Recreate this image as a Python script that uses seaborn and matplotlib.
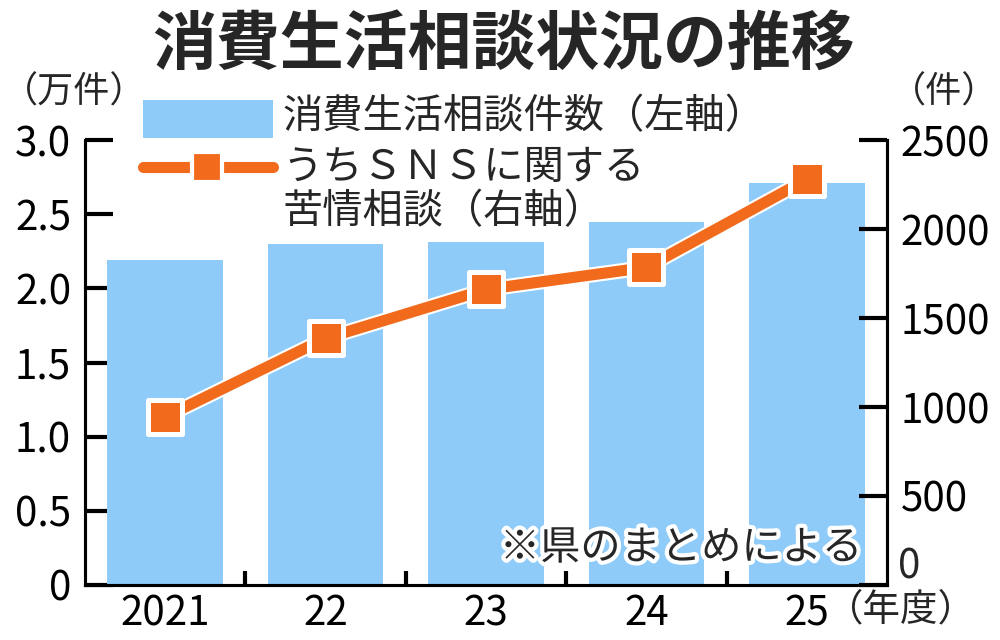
import numpy as np
import matplotlib
matplotlib.use("Agg")
import matplotlib.pyplot as plt
import matplotlib.patheffects as pe
from matplotlib.patches import Rectangle
from matplotlib.lines import Line2D
import seaborn as sns

# data
years = ["2021", "22", "23", "24", "25"]
consult_10k = [2.19, 2.30, 2.31, 2.45, 2.71]   # 消費生活相談件数（万件）
sns_cases = [945, 1386, 1661, 1785, 2279]      # うちＳＮＳに関する苦情相談（件）
left_ticks = [0, 0.5, 1.0, 1.5, 2.0, 2.5, 3.0]
left_labels = ["0", "0.5", "1.0", "1.5", "2.0", "2.5", "3.0"]
right_ticks = [0, 500, 1000, 1500, 2000, 2500]

BLUE = "#8ECBF9"
ORANGE = "#F26A1C"

sns.set_theme(style="white")
plt.rcParams['font.family'] = ['Noto Sans CJK JP', 'DejaVu Sans']
NUM_SIZE = 29

fig = plt.figure(figsize=(10, 6.4), dpi=100)
ax = fig.add_axes([0.085, 0.086, 0.802, 0.695])
pos = np.arange(len(years))

sns.barplot(x=pos, y=consult_10k, native_scale=True, width=0.72, color=BLUE,
            saturation=1, errorbar=None, linewidth=0, ax=ax)

ax2 = ax.twinx()
sns.lineplot(x=pos, y=sns_cases, ax=ax2, color=ORANGE, lw=8,
             path_effects=[pe.Stroke(linewidth=11, foreground='white'), pe.Normal()])
sns.scatterplot(x=pos, y=sns_cases, ax=ax2, marker='s', s=570, color=ORANGE,
                edgecolor='white', linewidth=3.6, zorder=5)

ax.set_xlim(-0.5, 4.5)
ax.set_ylim(0, 3.0)
ax2.set_ylim(0, 2500)

for a in (ax, ax2):
    a.spines['top'].set_visible(False)
    for s in a.spines.values():
        s.set_linewidth(2.2)
        s.set_color('black')

ax.set_yticks(left_ticks)
ax.set_yticklabels(left_labels, fontsize=NUM_SIZE)
# the right-hand "0" sits a little above the baseline in the reference, drawn separately
ax2.set_yticks(right_ticks)
ax2.set_yticklabels([""] + [str(t) for t in right_ticks[1:]], fontsize=NUM_SIZE)
ax2.annotate(str(right_ticks[0]), xy=(1, 0), xycoords='axes fraction',
             xytext=(11, 18), textcoords='offset pixels', fontsize=NUM_SIZE,
             ha='left', va='center')
ax.tick_params(axis='y', left=True, direction='in', length=20, width=3, pad=10, colors='black')
ax2.tick_params(axis='y', right=True, direction='in', length=20, width=3, pad=10, colors='black')

ax.set_xticks(pos)
ax.set_xticklabels(years, fontsize=NUM_SIZE)
ax.set_xticks(pos[:-1] + 0.5, minor=True)
ax.tick_params(axis='x', which='major', bottom=True, length=0, pad=6, colors='black')
ax.tick_params(axis='x', which='minor', bottom=True, direction='in', length=10, width=3, color='black')
ax.set_xlabel("")
ax.set_ylabel("")
ax2.set_ylabel("")

# title and unit labels
fig.text(0.503, 1 - 45 / 640, "消費生活相談状況の推移", fontsize=46, fontweight='bold',
         ha='center', va='center')
fig.text(0.002, 1 - 93 / 640, "（万件）", fontsize=26, ha='left', va='center')
fig.text(0.998, 1 - 93 / 640, "（件）", fontsize=26, ha='right', va='center')
fig.text(0.826, 1 - 610 / 640, "（年度）", fontsize=27, ha='left', va='center')

# legend drawn by hand
fig.add_artist(Rectangle((0.143, 1 - 138 / 640), 0.130, 38 / 640,
                         transform=fig.transFigure, color=BLUE, lw=0))
fig.add_artist(Line2D([0.143, 0.273], [1 - 167 / 640] * 2, transform=fig.transFigure,
                      color=ORANGE, lw=8))
fig.add_artist(Line2D([0.207], [1 - 167 / 640], transform=fig.transFigure, marker='s',
                      markersize=22, markerfacecolor=ORANGE, markeredgecolor='white',
                      markeredgewidth=3, lw=0))
fig.text(0.282, 1 - 117 / 640, "消費生活相談件数（左軸）", fontsize=29, va='center')
fig.text(0.282, 1 - 167 / 640, "うちＳＮＳに関する", fontsize=29, va='center')
fig.text(0.282, 1 - 212 / 640, "苦情相談（右軸）", fontsize=29, va='center')

# source note
ax2.text(0.862, 1 - 548 / 640, "※県のまとめによる", transform=fig.transFigure,
         fontsize=29, ha='right', va='center', zorder=10,
         path_effects=[pe.Stroke(linewidth=6, foreground='white'), pe.Normal()])

fig.savefig("out.png", dpi=100)
